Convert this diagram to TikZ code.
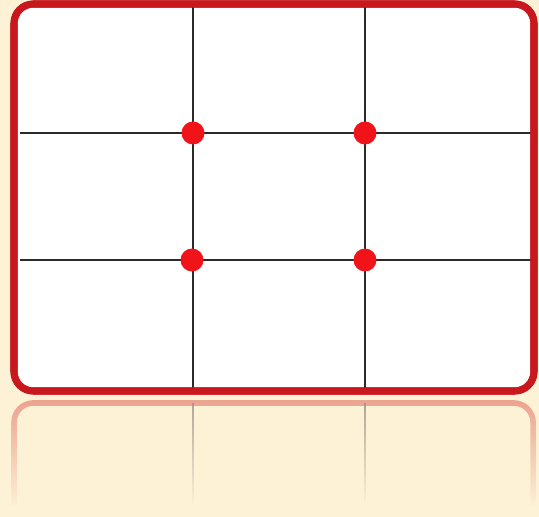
\documentclass[tikz,border=0pt]{standalone}
\usetikzlibrary{positioning, fadings}
\definecolor{cream}{HTML}{FDF2D6}
\definecolor{framered}{HTML}{C8171D}
\definecolor{dotred}{HTML}{F0141A}
\definecolor{gridgray}{HTML}{2E2A2A}
\definecolor{reflred}{HTML}{E8907E}
\definecolor{reflgray}{HTML}{9A928A}
\tikzfading[name=refl fade, top color=transparent!20, bottom color=transparent!100]
\begin{document}
\begin{tikzpicture}[
    x=0.02cm,
    y=-0.02cm,
    % estilos del marco, la retícula y los puntos
    frame box/.style={draw=framered, fill=white, line width=4pt, rounded corners=11pt},
    grid line/.style={draw=gridgray, line width=1.1pt},
    power dot/.style={circle, fill=dotred, inner sep=0pt, minimum size=0.46cm},
    refl red/.style={draw=reflred, line width=3.2pt, rounded corners=11pt, path fading=refl fade},
    refl gray/.style={draw=reflgray, line width=1.1pt, path fading=refl fade}
]
    % --- 1. FONDO ---
    \fill[cream] (0,0) rectangle (539,517);
    \useasboundingbox (0,0) rectangle (539,517);

    % --- 2. REFLEJO ---
    \draw[refl red] (14,505) -- (14,403) -- (533,403) -- (533,505);
    \draw[refl gray] (193,403) -- (193,505);
    \draw[refl gray] (365,403) -- (365,505);

    % --- 3. MARCO ---
    \draw[frame box] (14,4) rectangle (534,391);

    % --- 4. RETÍCULA (tercios) ---
    \coordinate (v1 top) at (193,4);
    \coordinate (v1 bot) at (193,391);
    \coordinate (v2 top) at (365,4);
    \coordinate (v2 bot) at (365,391);
    \coordinate (h1 left) at (20,133);
    \coordinate (h1 right) at (534,133);
    \coordinate (h2 left) at (20,260);
    \coordinate (h2 right) at (534,260);
    \draw[grid line] (v1 top) -- (v1 bot);
    \draw[grid line] (v2 top) -- (v2 bot);
    \draw[grid line] (h1 left) -- (h1 right);
    \draw[grid line] (h2 left) -- (h2 right);

    % --- 5. PUNTOS FUERTES ---
    \node[power dot] (p11) at (193,133) {};
    \node[power dot] (p12) at (365,133) {};
    \node[power dot] (p21) at (192,260) {};
    \node[power dot] (p22) at (365,260) {};

    % redibujar el borde encima de las líneas
    \draw[frame box, fill=none] (14,4) rectangle (534,391);
\end{tikzpicture}
\end{document}
